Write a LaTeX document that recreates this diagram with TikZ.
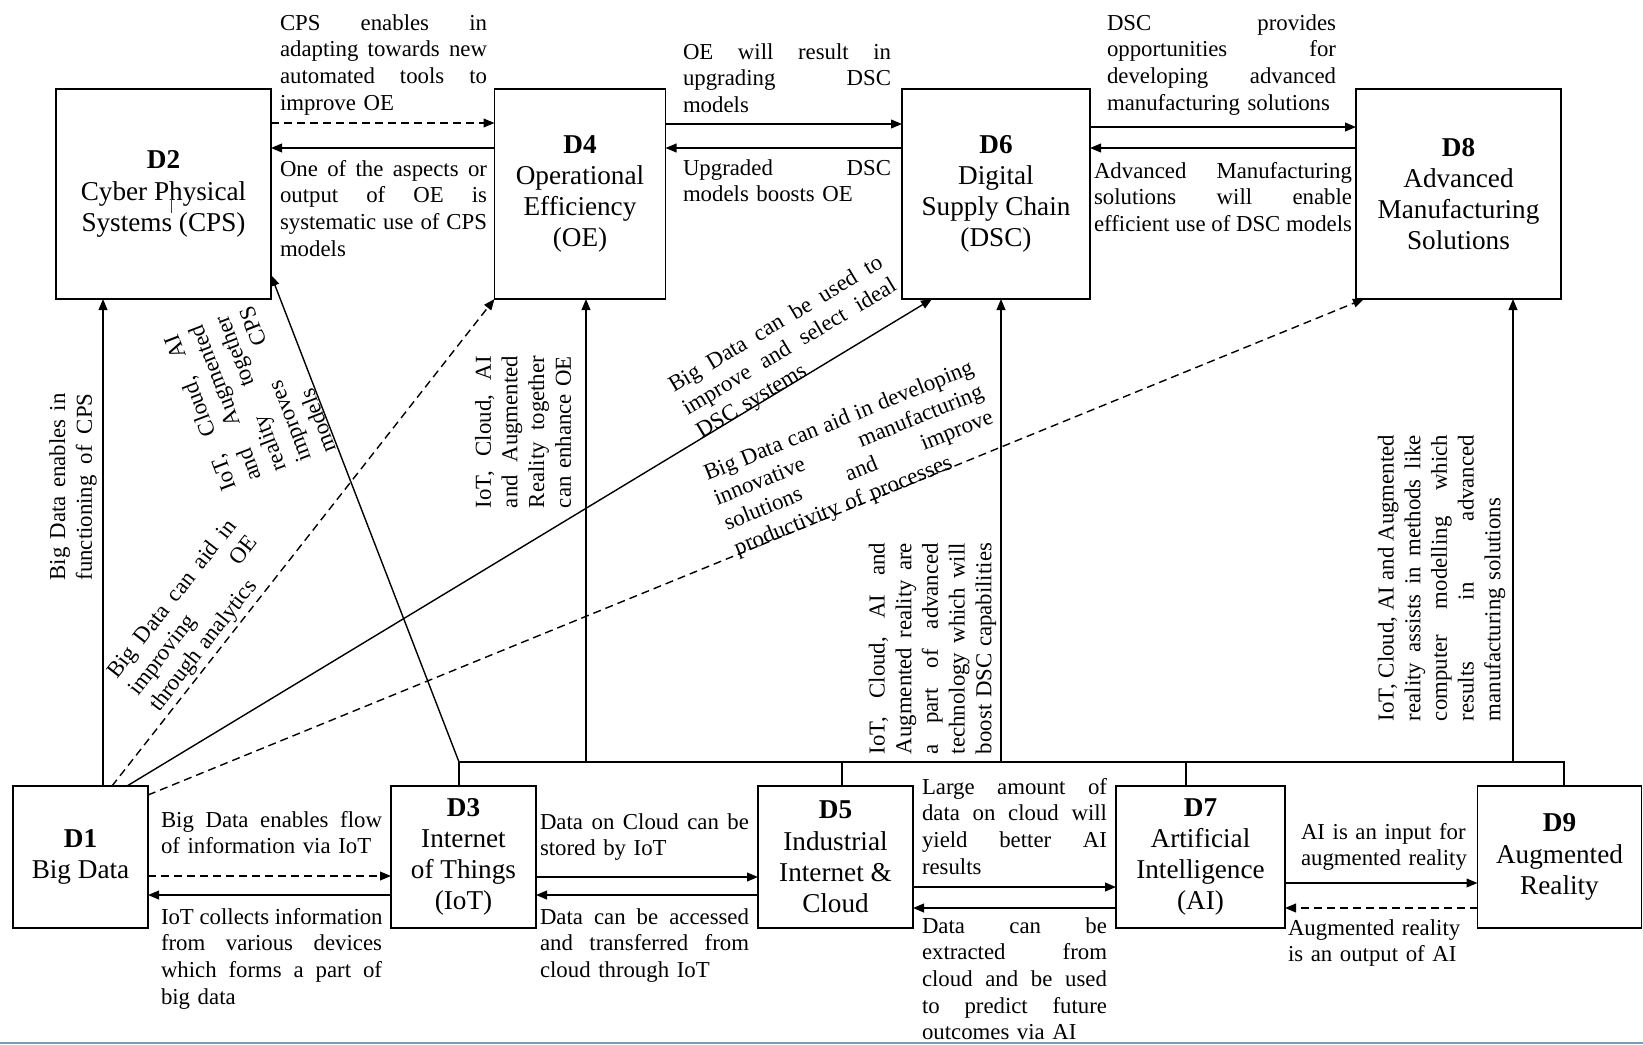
\documentclass[tikz,border=0pt]{standalone}
\usepackage{fontspec}
\setmainfont{Liberation Serif}
\usetikzlibrary{arrows.meta}
\definecolor{edgeblue}{RGB}{125,155,190}
% justified line: every word gap gets an equal share of the spare width
\newcommand\gp{\hskip 0.25em plus 1fil\relax}
\def\jwords#1 #2\jend{#1\ifx\jend#2\jend\else\gp\jwords#2\jend\fi}
\newcommand\jline[1]{\leavevmode\hbox to\hsize{\jwords#1 \jend}}
\begin{document}
\begin{tikzpicture}[x=0.5pt,y=-0.5pt,
  box/.style={draw, line width=0.9pt, inner sep=0pt, outer sep=0pt, align=center,
    font=\fontsize{13.6}{15.6}\selectfont},
  lbl/.style={inner sep=0pt, outer sep=0pt, align=left,
    font=\fontsize{11.4}{13.35}\selectfont},
  jw/.style={text width=#1},
  conn/.style={line width=0.7pt},
  arr/.style={conn, -{Triangle[length=5.5pt,width=4.4pt]}},
  dsh/.style={dash pattern=on 4pt off 2.5pt}]

\fill[white] (0,0) rectangle (1643,1044);
\useasboundingbox (0,0) rectangle (1643,1044);

% ---------- top row ----------
\node[box, minimum width=107.5pt, minimum height=105pt] (D2) at (163.5,194)
  {\textbf{D2}\\Cyber Physical\\Systems (CPS)};
\node[box, minimum width=85.5pt, minimum height=105pt] (D4) at (580,194)
  {\textbf{D4}\\Operational\\Efficiency\\(OE)};
\node[box, minimum width=94pt, minimum height=105pt] (D6) at (996,194)
  {\textbf{D6}\\Digital\\Supply Chain\\(DSC)};
\node[box, minimum width=102.5pt, minimum height=105pt] (D8) at (1458.5,194)
  {\textbf{D8}\\Advanced\\Manufacturing\\Solutions};

% ---------- bottom row ----------
\node[box, minimum width=67.5pt, minimum height=71pt] (D1) at (80.5,857)
  {\textbf{D1}\\Big Data};
\node[box, minimum width=72.5pt, minimum height=71pt] (D3) at (463.5,857)
  {\textbf{D3}\\Internet\\of Things\\(IoT)};
\node[box, minimum width=77.5pt, minimum height=71pt] (D5) at (835.5,857)
  {\textbf{D5}\\Industrial\\Internet \&\\Cloud};
\node[box, minimum width=84.5pt, minimum height=71pt] (D7) at (1200.5,857)
  {\textbf{D7}\\Artificial\\Intelligence\\(AI)};
\node[box, minimum width=82pt, minimum height=71pt] (D9) at (1559.5,857)
  {\textbf{D9}\\Augmented\\Reality};

% small stroke inside the CPS box
\draw[line width=0.4pt, black!75] (171,197) -- (171,213);

% ---------- guide coordinates ----------
\coordinate (yA) at (0,123);  \coordinate (yB) at (0,148);
\coordinate (yC) at (0,124);  \coordinate (yD) at (0,127);
\coordinate (yE) at (0,876);  \coordinate (yF) at (0,895);
\coordinate (yG) at (0,877);  \coordinate (yH) at (0,887);
\coordinate (yI) at (0,908);  \coordinate (yJ) at (0,883);
\coordinate (yK) at (0,275);  \coordinate (yL) at (0,795);
\coordinate (xA) at (103,0);  \coordinate (xB) at (112,0);
\coordinate (xC) at (127,0);  \coordinate (xD) at (932,0);
\coordinate (xE) at (1364,0);
\coordinate (bus3) at (459,762);  \coordinate (bus4) at (586,762);
\coordinate (bus5) at (842,762);  \coordinate (bus6) at (1001,762);
\coordinate (bus7) at (1186,762); \coordinate (bus8) at (1513,762);
\coordinate (bus9) at (1564,762);

% ---------- top row links ----------
\draw[arr, dsh] (D2.east |- yA) -- (D4.west |- yA);
\draw[arr] (D4.west |- yB) -- (D2.east |- yB);
\draw[arr] (D4.east |- yC) -- (D6.west |- yC);
\draw[arr] (D6.west |- yB) -- (D4.east |- yB);
\draw[arr] (D6.east |- yD) -- (D8.west |- yD);
\draw[arr] (D8.west |- yB) -- (D6.east |- yB);

% ---------- bottom row links ----------
\draw[arr, dsh] (D1.east |- yE) -- (D3.west |- yE);
\draw[arr] (D3.west |- yF) -- (D1.east |- yF);
\draw[arr] (D3.east |- yG) -- (D5.west |- yG);
\draw[arr] (D5.west |- yF) -- (D3.east |- yF);
\draw[arr] (D5.east |- yH) -- (D7.west |- yH);
\draw[arr] (D7.west |- yI) -- (D5.east |- yI);
\draw[arr] (D7.east |- yJ) -- (D9.west |- yJ);
\draw[arr, dsh] (D9.west |- yI) -- (D7.east |- yI);

% ---------- Big Data links ----------
\draw[arr] (D1.north -| xA) -- (D2.south -| xA);
\draw[arr, dsh] (D1.north -| xB) -- (D4.south west);
\draw[arr] (D1.north -| xC) -- (D6.south -| xD);
\draw[arr, dsh] (D1.east |- yL) -- (D8.south -| xE);

% ---------- technology bus ----------
\draw[conn] (D3.north -| bus3) -- (bus3) -- (bus9) -- (D9.north -| bus9);
\draw[conn] (D5.north -| bus5) -- (bus5);
\draw[conn] (D7.north -| bus7) -- (bus7);
\draw[arr] (bus3) -- (D2.east |- yK);
\draw[arr] (bus4) -- (D4.south -| bus4);
\draw[arr] (bus6) -- (D6.south -| bus6);
\draw[arr] (bus8) -- (D8.south -| bus8);

% ---------- horizontal labels ----------
\node[lbl, jw=103.5pt, anchor=base west] (t1) at (280,30)
  {\jline{CPS enables in}\\\jline{adapting towards new}\\\jline{automated tools to}\\improve OE};
\node[lbl, jw=103.5pt, anchor=base west] (t2) at (280,176)
  {\jline{One of the aspects or}\\\jline{output of OE is}\\\jline{systematic use of CPS}\\models};
\node[lbl, jw=104pt, anchor=base west] (t3) at (683,59)
  {\jline{OE will result in}\\\jline{upgrading DSC}\\models};
\node[lbl, jw=104pt, anchor=base west] (t4) at (683,175)
  {\jline{Upgraded DSC}\\models boosts OE};
\node[lbl, jw=114.5pt, anchor=base west] (t5) at (1107,30)
  {\jline{DSC provides}\\\jline{opportunities for}\\\jline{developing advanced}\\\mbox{manufacturing solutions}};
\node[lbl, jw=129pt, anchor=base west] (t6) at (1094,178)
  {\jline{Advanced Manufacturing}\\\jline{solutions will enable}\\\jline{efficient use of DSC models}};
\node[lbl, jw=110.5pt, anchor=base west] (t7) at (161,827)
  {\jline{Big Data enables flow}\\of information via IoT};
\node[lbl, jw=110.5pt, anchor=base west] (t8) at (161,924)
  {\jline{IoT collects information}\\\jline{from various devices}\\\jline{which forms a part of}\\big data};
\node[lbl, jw=104.5pt, anchor=base west] (t9) at (540,829)
  {\jline{Data on Cloud can be}\\stored by IoT};
\node[lbl, jw=104.5pt, anchor=base west] (t10) at (540,924)
  {\jline{Data can be accessed}\\\jline{and transferred from}\\cloud through IoT};
\node[lbl, jw=92.5pt, anchor=base west] (t11) at (922,794)
  {\jline{Large amount of}\\\jline{data on cloud will}\\\jline{yield better AI}\\results};
\node[lbl, jw=92.5pt, anchor=base west] (t12) at (922,933)
  {\jline{Data can be}\\\jline{extracted from}\\\jline{cloud and be used}\\\jline{to predict future}\\outcomes via AI};
\node[lbl, jw=90pt, anchor=base west] (t13) at (1301,839)
  {AI is an input for\\augmented reality};
\node[lbl, jw=90pt, anchor=base west] (t14) at (1288,935)
  {Augmented reality\\is an output of AI};

% ---------- rotated labels ----------
\node[lbl, jw=93.5pt, rotate=90] (r1) at (73,487)
  {\jline{Big Data enables in}\\\jline{functioning of CPS}};
\node[lbl, jw=82.5pt, rotate=111] (r2) at (250,394)
  {\jline{IoT, Cloud, AI}\\\jline{and Augmented}\\\jline{reality together}\\\jline{improves CPS}\\models};
\node[lbl, jw=97.5pt, rotate=52] (r3) at (194,616)
  {\jline{Big Data can aid in}\\\jline{improving OE}\\through analytics};
\node[lbl, jw=122.5pt, rotate=31] (r4) at (790,348)
  {\jline{Big Data can be used to}\\\jline{improve and select ideal}\\DSC systems};
\node[lbl, jw=144pt, rotate=22] (r5) at (854,459)
  {\jline{Big Data can aid in developing}\\\jline{innovative manufacturing}\\\jline{solutions and improve}\\productivity of processes};
\node[lbl, jw=76pt, rotate=90] (r6) at (523,432)
  {\jline{IoT, Cloud, AI}\\\jline{and Augmented}\\\jline{Reality together}\\can enhance OE};
\node[lbl, jw=105.5pt, rotate=90] (r7) at (932.5,648.5)
  {\jline{IoT, Cloud, AI and}\\\jline{Augmented reality are}\\\jline{a part of advanced}\\\jline{technology which will}\\\jline{boost DSC capabilities}};
\node[lbl, jw=143pt, rotate=90] (r8) at (1441.5,578)
  {\jline{IoT, Cloud, AI and Augmented}\\\jline{reality assists in methods like}\\\jline{computer modelling which}\\\jline{results in advanced}\\manufacturing solutions};

% thin rule along the lower edge
\draw[line width=1pt, edgeblue] (0,1042.5) -- (1643,1042.5);
\end{tikzpicture}
\end{document}
